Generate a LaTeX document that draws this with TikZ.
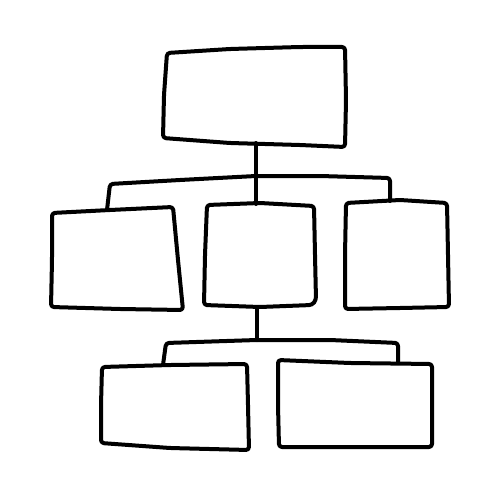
\documentclass[tikz,border=0pt]{standalone}
\begin{document}
\begin{tikzpicture}[x=1pt,y=-1pt,
  ink/.style={line width=4pt,line join=round,line cap=round,rounded corners=3pt,black},
  slot/.style={draw=none,inner sep=0pt,outer sep=0pt}]
\useasboundingbox[fill=white] (0,0) rectangle (500,500);
% named box nodes (outline drawn by hand below)
\node[slot,minimum width=180pt,minimum height=96pt] (top) at (255,96) {};
\node[slot,minimum width=130pt,minimum height=100pt] (ml) at (116,259) {};
\node[slot,minimum width=110pt,minimum height=100pt] (mc) at (260,256) {};
\node[slot,minimum width=102pt,minimum height=106pt] (mr) at (397,254) {};
\node[slot,minimum width=148pt,minimum height=84pt] (bl) at (175,406) {};
\node[slot,minimum width=154pt,minimum height=87pt] (br) at (355,404) {};
% hand-drawn outlines
\draw[ink] (167,53) -- (230,49) -- (300,47) -- (345,47) -- (346,100) -- (345,147)
  -- (300,145) -- (230,143) -- (163,138) -- (164,95) -- cycle;
\draw[ink] (52,213) -- (110,210) -- (173,207) -- (178,260) -- (183,310)
  -- (120,309) -- (51,307) -- (52,260) -- cycle;
\draw[ink] (207,205) -- (260,203) -- (314,206) -- (315,255) -- (316,300)
  -- (312,305) -- (260,307) -- (204,305) -- (205,255) -- cycle;
\draw[ink] (346,203) -- (400,200) -- (447,203) -- (448,255) -- (449,307)
  -- (400,308) -- (345,309) -- (345,255) -- cycle;
\draw[ink] (102,367) -- (170,365) -- (247,364) -- (248,405) -- (249,450)
  -- (170,448) -- (101,443) -- (101,405) -- cycle;
\draw[ink] (278,360) -- (350,363) -- (432,364) -- (432,405) -- (432,447)
  -- (350,447) -- (279,447) -- (278,405) -- cycle;
% connector junctions
\coordinate (j1) at (256,176);
\coordinate (l1) at (110,184);
\coordinate (r1) at (390,178);
\coordinate (j2) at (257,340);
\coordinate (l2) at (166,343);
\coordinate (r2) at (398,343);
\coordinate (topb) at (256,143);
\coordinate (mct) at (256,204);
\coordinate (mcb) at (257,307);
\coordinate (mlt) at (107,210);
\coordinate (mrt) at (390,201);
\coordinate (blt) at (163,365);
\coordinate (brt) at (398,363);
% connectors
\draw[ink] (topb) -- (mct);
\draw[ink] (mlt) -- (l1) -- (180,180) -- (j1) -- (320,176) -- (r1) -- (mrt);
\draw[ink] (mcb) -- (j2);
\draw[ink] (blt) -- (l2) -- (j2) -- (330,340) -- (r2) -- (brt);
\end{tikzpicture}
\end{document}
